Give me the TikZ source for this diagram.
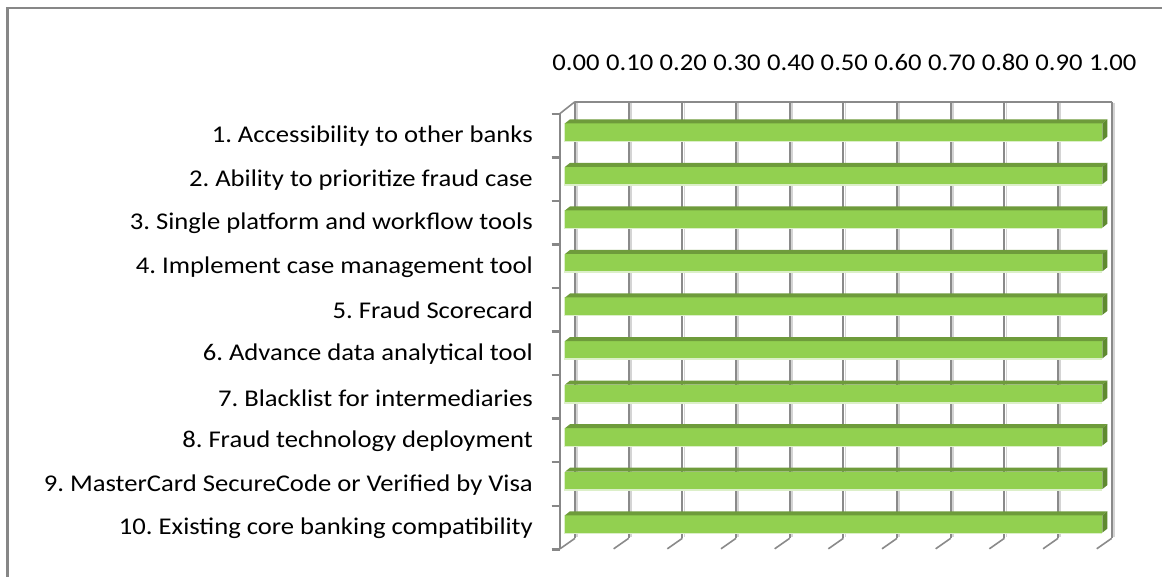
\documentclass[tikz,border=0pt]{standalone}
\usepackage{fontspec}
\setmainfont{Carlito}[FakeStretch=1.11]
\definecolor{frame}{HTML}{878787}
\definecolor{grid}{HTML}{8A8A8A}
\definecolor{gridlight}{HTML}{D4D4D4}
\definecolor{barfront}{HTML}{92D050}
\definecolor{bartop}{HTML}{6E9B3B}
\definecolor{barside}{HTML}{5F8A30}
\definecolor{barglow}{HTML}{DCEFC9}
\tikzset{
  lbl/.style={anchor=east,inner sep=0pt,font=\fontsize{24}{28}\selectfont\frenchspacing},
  ticklbl/.style={anchor=center,inner sep=0pt,font=\fontsize{24}{28}\selectfont},
  gridline/.style={draw=grid,line width=2pt},
  gridshade/.style={draw=gridlight,line width=1.5pt},
  axisline/.style={draw=frame,line width=2.5pt},
}
\begin{document}
\begin{tikzpicture}[x=1pt,y=-1pt]
\useasboundingbox (0,0) rectangle (1162,577);
\fill[white] (0,0) rectangle (1162,577);
% outer frame
\draw[frame,line width=2.5pt] (7.5,577) -- (7.5,8) -- (1162,8);
% back wall gridlines
\foreach \k/\txt in {0/0.00,1/0.10,2/0.20,3/0.30,4/0.40,5/0.50,6/0.60,7/0.70,8/0.80,9/0.90,10/1.00}{
  \pgfmathsetmacro{\gx}{575+53.67*\k}
  \draw[gridshade] (\gx+2.2,103) -- (\gx+2.2,537);
  \draw[gridline] (\gx,101.7) -- (\gx,538.3);
  \draw[gridline,line width=1.6pt] (\gx,538.3) -- (\gx-15,548.8);
  \node[ticklbl] (t\k) at (\gx+1,62.5) {\txt};
}
\draw[gridline] (575,101.7) -- (1111.7,101.7);
\draw[gridline,line width=1.6pt] (575,101.7) -- (560,113.5);
% left axis
\draw[axisline] (560,113.5) -- (560,549.3);
\foreach \i in {0,...,10}{
  \pgfmathsetmacro{\ty}{113.8+43.55*\i}
  \draw[axisline] (551.5,\ty) -- (560,\ty);
}
% bars
\foreach \i in {0,...,9}{
  \pgfmathsetmacro{\by}{123.3+43.55*\i}
  \fill[barglow] (563.5,\by) rectangle (1102.3,\by+19);
  \fill[barfront] (565,\by) rectangle (1102.3,\by+17.4);
  \fill[bartop] (565,\by) -- (570,\by-4) -- (1107.3,\by-4) -- (1102.3,\by) -- cycle;
  \fill[barside] (1102.3,\by) -- (1107.3,\by-4) -- (1107.3,\by+13.4) -- (1102.3,\by+17.4) -- cycle;
}
% category labels
\node[lbl] (c1)  at (533,136.5) {1. Accessibility to other banks};
\node[lbl] (c2)  at (533,180.05) {2. Ability to prioritize fraud case};
\node[lbl] (c3)  at (533,223.6) {3. Single platform and workflow tools};
\node[lbl] (c4)  at (533,267.15) {4. Implement case management tool};
\node[lbl] (c5)  at (533,310.7) {5. Fraud Scorecard};
\node[lbl] (c6)  at (533,354.25) {6. Advance data analytical tool};
\node[lbl] (c7)  at (533,397.8) {7. Blacklist for intermediaries};
\node[lbl] (c8)  at (533,441.35) {8. Fraud technology deployment};
\node[lbl] (c9)  at (533,484.9) {9. MasterCard SecureCode or Verified by Visa};
\node[lbl] (c10) at (533,528.45) {10. Existing core banking compatibility};
\end{tikzpicture}
\end{document}
